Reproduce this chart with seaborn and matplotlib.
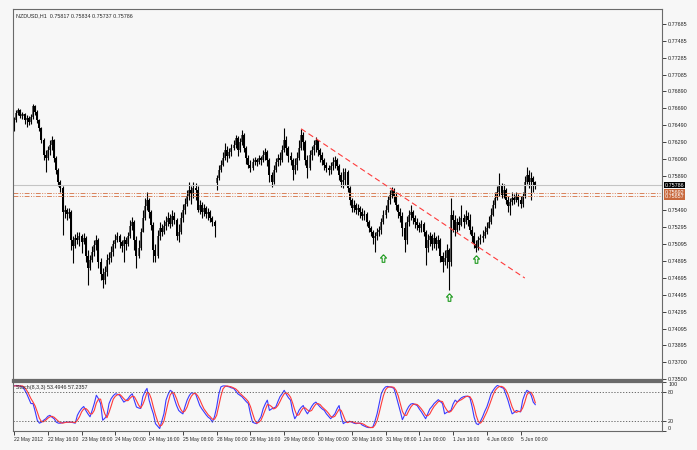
import numpy as np
import pandas as pd
import matplotlib
matplotlib.use('Agg')
import matplotlib.pyplot as plt
import seaborn as sns
from matplotlib import font_manager
from matplotlib.path import Path
from matplotlib.transforms import blended_transform_factory

sns.set_style('white')
have = {f.name for f in font_manager.fontManager.ttflist}
if 'Liberation Sans Narrow' in have:
    fam, fs = 'Liberation Sans Narrow', 4.6
else:
    fam, fs = 'Liberation Sans', 3.9
plt.rcParams['font.family'] = [fam, 'DejaVu Sans']

# NZDUSD H1, 22 May 2012 00:00 -> 5 Jun 2012 07:00 (prices in 1e-4 units)
symbol = 'NZDUSD,H1'
last_ohlc = [0.75817, 0.75834, 0.75737, 0.75786]
first_open = 7644
gap_bar, gap_open = 96, 7581   # weekend gap, first bar of 28 May
closes = [7655, 7664, 7667, 7660, 7662, 7655, 7658, 7653, 7659, 7672,
          7665, 7655, 7646, 7632, 7614, 7611, 7620, 7626, 7632, 7611,
          7596, 7582, 7575, 7547, 7549, 7544, 7547, 7514, 7507, 7516,
          7514, 7519, 7511, 7516, 7495, 7481, 7490, 7500, 7508, 7514,
          7488, 7474, 7467, 7476, 7490, 7493, 7500, 7509, 7514, 7519,
          7511, 7507, 7514, 7509, 7519, 7530, 7535, 7514, 7495, 7504,
          7523, 7540, 7554, 7561, 7547, 7532, 7502, 7495, 7519, 7528,
          7523, 7530, 7535, 7540, 7533, 7542, 7537, 7519, 7523, 7540,
          7549, 7556, 7566, 7573, 7568, 7575, 7573, 7549, 7555, 7547,
          7552, 7544, 7547, 7540, 7535, 7530, 7587, 7596, 7602, 7611,
          7620, 7613, 7618, 7622, 7626, 7634, 7620, 7629, 7638, 7622,
          7611, 7602, 7599, 7606, 7608, 7606, 7611, 7608, 7614, 7618,
          7608, 7590, 7582, 7596, 7606, 7611, 7608, 7620, 7632, 7622,
          7613, 7608, 7596, 7602, 7611, 7622, 7638, 7629, 7608, 7599,
          7614, 7620, 7626, 7632, 7620, 7614, 7608, 7602, 7599, 7596,
          7601, 7606, 7608, 7601, 7590, 7582, 7585, 7594, 7575, 7561,
          7552, 7555, 7549, 7552, 7547, 7542, 7544, 7535, 7528, 7523,
          7516, 7519, 7523, 7526, 7535, 7543, 7549, 7561, 7567, 7573,
          7566, 7555, 7547, 7542, 7528, 7514, 7535, 7543, 7547, 7540,
          7535, 7532, 7528, 7533, 7523, 7504, 7514, 7519, 7509, 7516,
          7509, 7514, 7495, 7488, 7493, 7502, 7488, 7543, 7537, 7526,
          7535, 7532, 7540, 7535, 7542, 7537, 7526, 7519, 7509, 7504,
          7514, 7516, 7519, 7523, 7528, 7535, 7543, 7555, 7563, 7570,
          7578, 7567, 7573, 7561, 7554, 7559, 7563, 7561, 7566, 7561,
          7556, 7566, 7582, 7590, 7582, 7587, 7582, 7579]
highs = [7659, 7667, 7669, 7668, 7665, 7664, 7661, 7660, 7662, 7674,
         7673, 7667, 7656, 7647, 7634, 7620, 7625, 7632, 7636, 7633,
         7613, 7599, 7585, 7578, 7555, 7552, 7552, 7549, 7519, 7521,
         7523, 7523, 7521, 7522, 7519, 7502, 7496, 7507, 7514, 7520,
         7516, 7493, 7481, 7483, 7497, 7500, 7507, 7514, 7521, 7523,
         7521, 7514, 7519, 7517, 7523, 7537, 7541, 7537, 7519, 7514,
         7528, 7549, 7563, 7570, 7563, 7549, 7535, 7509, 7526, 7535,
         7533, 7537, 7542, 7547, 7544, 7549, 7547, 7540, 7533, 7547,
         7556, 7563, 7573, 7582, 7578, 7582, 7581, 7578, 7561, 7559,
         7556, 7554, 7552, 7549, 7542, 7537, 7590, 7602, 7608, 7618,
         7628, 7625, 7622, 7627, 7632, 7638, 7636, 7634, 7644, 7640,
         7625, 7614, 7608, 7611, 7612, 7611, 7614, 7613, 7620, 7622,
         7620, 7611, 7594, 7602, 7611, 7615, 7618, 7626, 7646, 7636,
         7625, 7618, 7611, 7611, 7618, 7632, 7645, 7641, 7632, 7614,
         7620, 7625, 7632, 7635, 7632, 7622, 7618, 7611, 7606, 7602,
         7606, 7612, 7613, 7611, 7603, 7594, 7599, 7599, 7596, 7578,
         7563, 7561, 7557, 7556, 7554, 7552, 7549, 7547, 7537, 7530,
         7526, 7523, 7528, 7530, 7540, 7549, 7555, 7566, 7573, 7576,
         7575, 7570, 7556, 7552, 7547, 7535, 7542, 7549, 7555, 7549,
         7543, 7540, 7535, 7537, 7535, 7526, 7521, 7523, 7521, 7523,
         7519, 7520, 7516, 7500, 7502, 7509, 7504, 7563, 7549, 7543,
         7540, 7542, 7555, 7544, 7549, 7547, 7544, 7530, 7523, 7514,
         7519, 7521, 7526, 7530, 7535, 7542, 7552, 7561, 7570, 7578,
         7593, 7581, 7580, 7575, 7566, 7563, 7570, 7568, 7570, 7568,
         7566, 7570, 7589, 7600, 7596, 7594, 7589, 7583]
lows = [7642, 7653, 7661, 7658, 7656, 7651, 7647, 7649, 7651, 7656,
        7661, 7652, 7642, 7628, 7608, 7594, 7608, 7614, 7620, 7606,
        7592, 7578, 7570, 7520, 7540, 7537, 7540, 7502, 7487, 7504,
        7509, 7507, 7499, 7509, 7488, 7461, 7478, 7488, 7495, 7502,
        7481, 7467, 7457, 7462, 7471, 7486, 7488, 7495, 7504, 7511,
        7504, 7500, 7488, 7502, 7507, 7516, 7526, 7502, 7481, 7493,
        7502, 7523, 7537, 7549, 7540, 7526, 7488, 7488, 7493, 7514,
        7519, 7521, 7526, 7530, 7528, 7530, 7533, 7514, 7511, 7521,
        7535, 7544, 7554, 7561, 7556, 7563, 7561, 7547, 7544, 7540,
        7542, 7540, 7537, 7535, 7530, 7517, 7573, 7585, 7594, 7601,
        7608, 7606, 7611, 7613, 7620, 7622, 7613, 7618, 7626, 7618,
        7603, 7599, 7594, 7596, 7602, 7601, 7603, 7602, 7606, 7608,
        7601, 7582, 7576, 7580, 7594, 7601, 7602, 7606, 7618, 7614,
        7606, 7602, 7585, 7592, 7596, 7608, 7620, 7620, 7602, 7587,
        7596, 7608, 7614, 7618, 7613, 7606, 7602, 7596, 7594, 7590,
        7592, 7596, 7599, 7596, 7585, 7576, 7575, 7579, 7570, 7555,
        7547, 7547, 7544, 7543, 7540, 7537, 7537, 7530, 7523, 7519,
        7509, 7500, 7514, 7519, 7521, 7533, 7540, 7547, 7556, 7563,
        7559, 7549, 7540, 7535, 7519, 7500, 7509, 7530, 7537, 7533,
        7528, 7526, 7523, 7523, 7519, 7484, 7500, 7507, 7502, 7504,
        7502, 7504, 7488, 7476, 7484, 7481, 7455, 7483, 7523, 7519,
        7523, 7526, 7530, 7528, 7533, 7530, 7521, 7511, 7504, 7500,
        7502, 7509, 7511, 7516, 7521, 7528, 7533, 7542, 7552, 7561,
        7566, 7563, 7563, 7556, 7547, 7543, 7555, 7556, 7559, 7554,
        7552, 7553, 7563, 7580, 7575, 7561, 7570, 7574]

# Stochastic(8,3,3): main (blue) and signal (red)
stoch_main = [92, 93, 92, 92, 90, 84, 76, 66, 56, 56,
              40, 22, 16, 18, 22, 25, 30, 32, 28, 25,
              18, 16, 16, 17, 18, 18, 18, 18, 17, 16,
              32, 40, 46, 50, 42, 35, 29, 42, 56, 73,
              66, 56, 22, 26, 32, 56, 66, 72, 76, 75,
              73, 66, 59, 62, 66, 72, 76, 62, 49, 47,
              46, 70, 80, 87, 63, 48, 35, 15, 10, 5,
              20, 35, 63, 75, 83, 80, 65, 52, 42, 38,
              35, 50, 63, 72, 78, 77, 76, 64, 52, 45,
              39, 33, 28, 25, 18, 30, 49, 75, 90, 92,
              92, 91, 90, 88, 87, 82, 76, 73, 70, 65,
              60, 56, 35, 18, 16, 15, 22, 29, 45, 55,
              63, 42, 45, 47, 49, 60, 70, 76, 83, 75,
              68, 63, 40, 25, 32, 42, 48, 52, 42, 35,
              42, 50, 56, 59, 54, 49, 45, 42, 35, 30,
              25, 30, 35, 45, 52, 30, 15, 18, 18, 20,
              18, 16, 15, 16, 16, 12, 10, 8, 7, 7,
              8, 20, 35, 55, 76, 85, 90, 91, 90, 89,
              87, 72, 56, 40, 23, 32, 42, 50, 55, 56,
              54, 52, 45, 39, 32, 25, 35, 45, 50, 56,
              60, 64, 60, 56, 35, 38, 40, 42, 55, 63,
              59, 64, 68, 70, 71, 71, 68, 50, 28, 15,
              13, 20, 29, 40, 49, 62, 76, 83, 89, 93,
              91, 89, 87, 75, 63, 48, 35, 38, 42, 40,
              39, 63, 75, 83, 80, 73, 59, 53.4946]
stoch_signal = [92, 92, 92, 92, 92, 89, 83, 75, 66, 59,
                51, 39, 26, 19, 19, 22, 26, 29, 30, 28,
                24, 20, 17, 16, 17, 18, 18, 18, 18, 17,
                22, 29, 39, 45, 46, 42, 35, 35, 42, 57,
                65, 65, 48, 35, 27, 38, 51, 65, 71, 74,
                75, 71, 66, 62, 62, 67, 71, 70, 62, 53,
                47, 54, 65, 79, 77, 66, 49, 33, 20, 10,
                12, 20, 39, 58, 74, 79, 76, 66, 53, 44,
                38, 41, 49, 62, 71, 76, 77, 72, 64, 54,
                45, 39, 33, 29, 24, 24, 32, 51, 71, 86,
                91, 92, 91, 90, 88, 86, 82, 77, 73, 69,
                65, 60, 50, 36, 23, 16, 18, 22, 32, 43,
                54, 53, 50, 45, 47, 52, 60, 69, 76, 78,
                75, 69, 57, 43, 32, 33, 41, 47, 47, 43,
                40, 42, 49, 55, 56, 54, 49, 45, 41, 36,
                30, 28, 30, 37, 44, 42, 32, 21, 17, 19,
                19, 18, 16, 16, 16, 15, 13, 10, 8, 7,
                7, 12, 21, 37, 55, 72, 84, 89, 90, 90,
                89, 83, 72, 56, 40, 32, 32, 41, 49, 54,
                55, 54, 50, 45, 39, 32, 31, 35, 43, 50,
                55, 60, 61, 60, 50, 43, 38, 40, 46, 53,
                59, 62, 64, 67, 70, 71, 70, 63, 49, 31,
                19, 16, 21, 30, 39, 50, 62, 74, 83, 88,
                91, 91, 89, 84, 75, 62, 49, 40, 38, 40,
                40, 47, 59, 74, 79, 79, 71, 57.2357]

tick_bars = [0, 16, 32, 48, 64, 80, 96, 112, 128, 144, 160, 176, 192, 208, 224, 240]
tick_labels = ['22 May 2012', '22 May 16:00', '23 May 08:00', '24 May 00:00',
               '24 May 16:00', '25 May 08:00', '28 May 00:00', '28 May 16:00',
               '29 May 08:00', '30 May 00:00', '30 May 16:00', '31 May 08:00',
               '1 Jun 00:00', '1 Jun 16:00', '4 Jun 08:00', '5 Jun 00:00']
price_ticks = [0.77685, 0.77485, 0.77285, 0.77085, 0.76890, 0.76690, 0.76490,
               0.76290, 0.76090, 0.75890, 0.75490, 0.75295, 0.75095, 0.74895,
               0.74695, 0.74495, 0.74295, 0.74095, 0.73895, 0.73700, 0.73500]
bid = 0.75786
levels = [0.75692, 0.75657]
trend_bars = [136, 242]
trend_prices = [0.7645, 0.7469]
arrow_bars = [175, 206, 219]
arrow_prices = [0.7493, 0.7447, 0.7491]

close = np.array(closes) / 1e4
high = np.array(highs) / 1e4
low = np.array(lows) / 1e4
opn = np.concatenate([[first_open], closes[:-1]]) / 1e4
opn[gap_bar] = gap_open / 1e4
x = np.arange(len(close))

bg = '#f7f7f7'
fig = plt.figure(figsize=(6.97, 4.5), dpi=100, facecolor=bg)
ax = fig.add_axes([13 / 697, 70 / 450, 649 / 697, 371 / 450], facecolor=bg)
ax2 = fig.add_axes([13 / 697, 19 / 450, 649 / 697, 49 / 450], facecolor=bg)

# candles
up = close >= opn
ax.vlines(x, low, high, color='black', lw=0.8)
ax.bar(x[up], (close - opn)[up], bottom=opn[up], width=0.95, color='#666666', lw=0)
ax.bar(x[~up], (opn - close)[~up], bottom=close[~up], width=0.95, color='black', lw=0)

# price lines, trend line, arrows
ax.axhline(bid, color='#c4c4c4', lw=0.8)
for lv in levels:
    ax.axhline(lv, color='#d9825b', lw=0.7, dashes=(5, 1.5, 1, 1.5, 1, 1.5))
ax.plot(trend_bars, trend_prices, color='#ff3b3b', lw=0.8, dashes=(5, 3))
arrow = Path([(0, 1), (-0.8, 0.1), (-0.35, 0.1), (-0.35, -1), (0.35, -1),
              (0.35, 0.1), (0.8, 0.1), (0, 1)])
ax.scatter(arrow_bars, arrow_prices, marker=arrow, s=30, facecolors=bg,
           edgecolors='#1e9a1e', linewidths=0.8, zorder=5)

ax.set_xlim(-0.5, 307)
ax.set_ylim(0.73488, 0.77862)
ax.set_xticks([])
ax.yaxis.tick_right()
ax.set_yticks(price_ticks)
ax.set_yticklabels([f'{p:.5f}' for p in price_ticks])
ax.tick_params(axis='y', length=3, width=0.6, labelsize=fs, pad=1.5, colors='#222222')

tr = blended_transform_factory(ax.transAxes, ax.transData)
ax.text(1.004, bid, f'{bid:.5f}', transform=tr, fontsize=fs, color='white',
        va='center', ha='left', bbox=dict(boxstyle='square,pad=0.15', fc='black', ec='none'))
ax.text(1.004, sum(levels) / 2, '\n'.join(f'{lv:.5f}' for lv in levels), transform=tr,
        fontsize=fs, color='white', va='center', ha='left', linespacing=0.8,
        bbox=dict(boxstyle='square,pad=0.15', fc='#c8683c', ec='none'))

ax.text(0.004, 0.988, f'{symbol}  ' + ' '.join(f'{v:.5f}' for v in last_ohlc),
        transform=ax.transAxes, fontsize=fs, va='top', ha='left')

# stochastic sub-window
df = pd.DataFrame({'bar': x, 'main': stoch_main, 'signal': stoch_signal})
sns.lineplot(data=df, x='bar', y='main', ax=ax2, color='#3a3aff', lw=0.8)
sns.lineplot(data=df, x='bar', y='signal', ax=ax2, color='#ff3a3a', lw=0.8)
for lv in (20, 80):
    ax2.axhline(lv, color='#555555', lw=0.6, dashes=(1.5, 2))
ax2.set_xlim(-0.5, 307)
ax2.set_ylim(0, 100)
ax2.set_xlabel('')
ax2.set_ylabel('')
ax2.yaxis.tick_right()
ax2.set_yticks([0, 20, 80, 100])
ax2.set_yticklabels(['0', '20', '80', '100'])
lab = ax2.get_yticklabels()
lab[0].set_va('bottom')
lab[3].set_va('top')
ax2.tick_params(axis='y', length=3, width=0.6, labelsize=fs, pad=1.5)
ax2.set_xticks(tick_bars)
ax2.set_xticklabels(tick_labels, ha='left')
ax2.tick_params(axis='x', length=3, width=0.6, labelsize=fs * 0.92, pad=1.5, bottom=True)
ax2.text(0.004, 0.93, f'Stoch(8,3,3) {stoch_main[-1]:.4f} {stoch_signal[-1]:.4f}',
         transform=ax2.transAxes, fontsize=fs, va='top', ha='left')

for a in (ax, ax2):
    for s in a.spines.values():
        s.set_color('#6a6a6a')
        s.set_linewidth(0.8)
ax.spines['bottom'].set_linewidth(1.6)
ax2.spines['top'].set_linewidth(1.6)

fig.savefig('out.png', dpi=100, facecolor=bg)
